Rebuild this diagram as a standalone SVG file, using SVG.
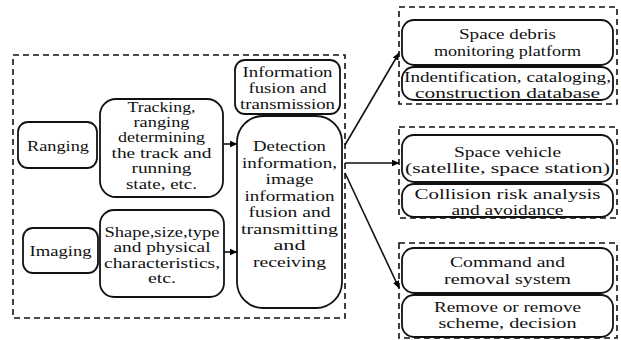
<svg xmlns="http://www.w3.org/2000/svg" width="621" height="340" viewBox="0 0 621 340">
<defs>
<marker id="ah" markerWidth="8" markerHeight="8" refX="7" refY="4" orient="auto" markerUnits="userSpaceOnUse">
<path d="M0,0.8 L7.5,4 L0,7.2 Z" fill="#000"/>
</marker>
</defs>
<style>
.dash{fill:none;stroke:#111;stroke-width:1.6;stroke-dasharray:6 4}
.box{fill:#fff;stroke:#111;stroke-width:1.8}
text{font-family:"Liberation Serif","Times New Roman",serif;font-size:14.5px;fill:#111;text-anchor:middle}
.conn line{stroke:#111;stroke-width:1.6;marker-end:url(#ah)}
</style>
<rect width="621" height="340" fill="#fff"/>
<rect class="dash" x="13" y="55" width="332" height="263"/>
<rect class="dash" x="399" y="7" width="218" height="97"/>
<rect class="dash" x="399" y="127" width="218" height="91"/>
<rect class="dash" x="399" y="243" width="218" height="95"/>

<g id="ranging"><rect class="box" x="18" y="122" width="79" height="46" rx="10"/>
<text x="58" y="151" textLength="62" lengthAdjust="spacingAndGlyphs">Ranging</text></g>
<g id="tracking"><rect class="box" x="100" y="99" width="123" height="98" rx="16"/>
<text x="161.5" y="112" textLength="68" lengthAdjust="spacingAndGlyphs">Tracking,</text>
<text x="161.5" y="127" textLength="56" lengthAdjust="spacingAndGlyphs">ranging</text>
<text x="161.5" y="142" textLength="87" lengthAdjust="spacingAndGlyphs">determining</text>
<text x="161.5" y="157.5" textLength="100" lengthAdjust="spacingAndGlyphs">the track and</text>
<text x="161.5" y="173" textLength="60" lengthAdjust="spacingAndGlyphs">running</text>
<text x="161.5" y="189" textLength="71" lengthAdjust="spacingAndGlyphs">state, etc.</text></g>
<g id="imaging"><rect class="box" x="23" y="228" width="75" height="45" rx="10"/>
<text x="60.5" y="256" textLength="62" lengthAdjust="spacingAndGlyphs">Imaging</text></g>
<g id="shape"><rect class="box" x="100" y="210" width="124" height="87" rx="14"/>
<text x="162" y="236.5" textLength="115" lengthAdjust="spacingAndGlyphs">Shape,size,type</text>
<text x="162" y="252" textLength="97" lengthAdjust="spacingAndGlyphs">and physical</text>
<text x="162" y="267.5" textLength="116" lengthAdjust="spacingAndGlyphs">characteristics,</text>
<text x="162" y="283" textLength="28" lengthAdjust="spacingAndGlyphs">etc.</text></g>
<g id="fusion"><rect class="box" x="235" y="60" width="105" height="54" rx="10"/>
<text x="287.5" y="77" textLength="90" lengthAdjust="spacingAndGlyphs">Information</text>
<text x="287.5" y="92.5" textLength="78" lengthAdjust="spacingAndGlyphs">fusion and</text>
<text x="287.5" y="108.5" textLength="95" lengthAdjust="spacingAndGlyphs">transmission</text></g>
<g id="detection"><rect class="box" x="237" y="116" width="105" height="192" rx="26"/>
<text x="289.5" y="151" textLength="73" lengthAdjust="spacingAndGlyphs">Detection</text>
<text x="289.5" y="167.5" textLength="95" lengthAdjust="spacingAndGlyphs">information,</text>
<text x="289.5" y="184" textLength="48" lengthAdjust="spacingAndGlyphs">image</text>
<text x="289.5" y="200.5" textLength="90" lengthAdjust="spacingAndGlyphs">information</text>
<text x="289.5" y="217" textLength="82" lengthAdjust="spacingAndGlyphs">fusion and</text>
<text x="289.5" y="233.5" textLength="97" lengthAdjust="spacingAndGlyphs">transmitting</text>
<text x="289.5" y="250" textLength="32" lengthAdjust="spacingAndGlyphs">and</text>
<text x="289.5" y="267" textLength="73" lengthAdjust="spacingAndGlyphs">receiving</text></g>

<g id="debris"><rect class="box" x="402" y="20" width="211" height="45" rx="12"/>
<text x="507.5" y="39" textLength="97" lengthAdjust="spacingAndGlyphs">Space debris</text>
<text x="507.5" y="55.5" textLength="147" lengthAdjust="spacingAndGlyphs">monitoring platform</text></g>
<g id="catalog"><rect class="box" x="402" y="67" width="211" height="33" rx="12"/>
<text x="507.5" y="82" textLength="207" lengthAdjust="spacingAndGlyphs">Indentification, cataloging,</text>
<text x="507.5" y="97.5" textLength="185" lengthAdjust="spacingAndGlyphs">construction database</text></g>
<g id="vehicle"><rect class="box" x="402" y="135" width="211" height="47" rx="12"/>
<text x="507.5" y="157" textLength="107" lengthAdjust="spacingAndGlyphs">Space vehicle</text>
<text x="507.5" y="173" textLength="205" lengthAdjust="spacingAndGlyphs">(satellite, space station)</text></g>
<g id="collision"><rect class="box" x="402" y="184" width="211" height="33" rx="12"/>
<text x="507.5" y="199" textLength="186" lengthAdjust="spacingAndGlyphs">Collision risk analysis</text>
<text x="507.5" y="214.5" textLength="112" lengthAdjust="spacingAndGlyphs">and avoidance</text></g>
<g id="command"><rect class="box" x="402" y="248" width="211" height="45" rx="12"/>
<text x="507.5" y="267" textLength="115" lengthAdjust="spacingAndGlyphs">Command and</text>
<text x="507.5" y="283.5" textLength="127" lengthAdjust="spacingAndGlyphs">removal system</text></g>
<g id="remove"><rect class="box" x="402" y="295" width="211" height="42" rx="12"/>
<text x="507.5" y="312" textLength="147" lengthAdjust="spacingAndGlyphs">Remove or remove</text>
<text x="507.5" y="327.5" textLength="138" lengthAdjust="spacingAndGlyphs">scheme, decision</text></g>

<g id="connectors" class="conn">
<line x1="223" y1="144" x2="237" y2="144"/>
<line x1="224" y1="252" x2="237" y2="252"/>
<line x1="345" y1="145" x2="399" y2="53"/>
<line x1="345" y1="163" x2="399" y2="163"/>
<line x1="345" y1="173" x2="399" y2="288"/>
</g>
</svg>
